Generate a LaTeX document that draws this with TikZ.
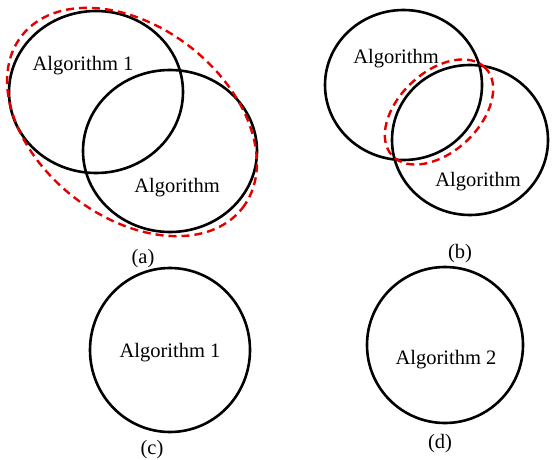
\documentclass[tikz,border=0pt]{standalone}
\usepackage{fontspec}
\setmainfont{Liberation Serif}
\begin{document}
\begin{tikzpicture}[x=1pt,y=1pt,
  blk/.style={draw=black,line width=2.6pt},
  reddash/.style={draw=red!90!black,line width=2.4pt,dash pattern=on 8pt off 5pt},
  lbl/.style={font=\fontsize{20.5}{24}\selectfont,inner sep=0pt}]
\useasboundingbox (0,0) rectangle (553,459);
% (a)
\draw[blk] (96,367) ellipse [x radius=87, y radius=81];
\draw[blk] (170,308) ellipse [x radius=87, y radius=81];
\draw[reddash,rotate around={-38:(132,337)}] (132,337) ellipse [x radius=140, y radius=95];
\node[lbl] (a1) at (83,393) {Algorithm 1};
\node[lbl] (a2) at (177,271) {Algorithm};
\node[lbl] (ca) at (143,200) {(a)};
% (b)
\draw[blk] (403.5,374) ellipse [x radius=78.5, y radius=75];
\draw[blk] (470,319) ellipse [x radius=78, y radius=75];
\draw[reddash,rotate around={43:(439,347)}] (439,347) ellipse [x radius=64, y radius=40];
\node[lbl] (b1) at (396,400) {Algorithm};
\node[lbl] (b2) at (478,277) {Algorithm};
\node[lbl] (cb) at (460,205) {(b)};
% (c)
\draw[blk] (170,109) ellipse [x radius=80, y radius=82];
\node[lbl] (c1) at (170,106) {Algorithm 1};
\node[lbl] (cc) at (152,9) {(c)};
% (d)
\draw[blk] (445,114) ellipse [x radius=78, y radius=78];
\node[lbl] (d1) at (446,99) {Algorithm 2};
\node[lbl] (cd) at (440,15) {(d)};
\end{tikzpicture}
\end{document}
